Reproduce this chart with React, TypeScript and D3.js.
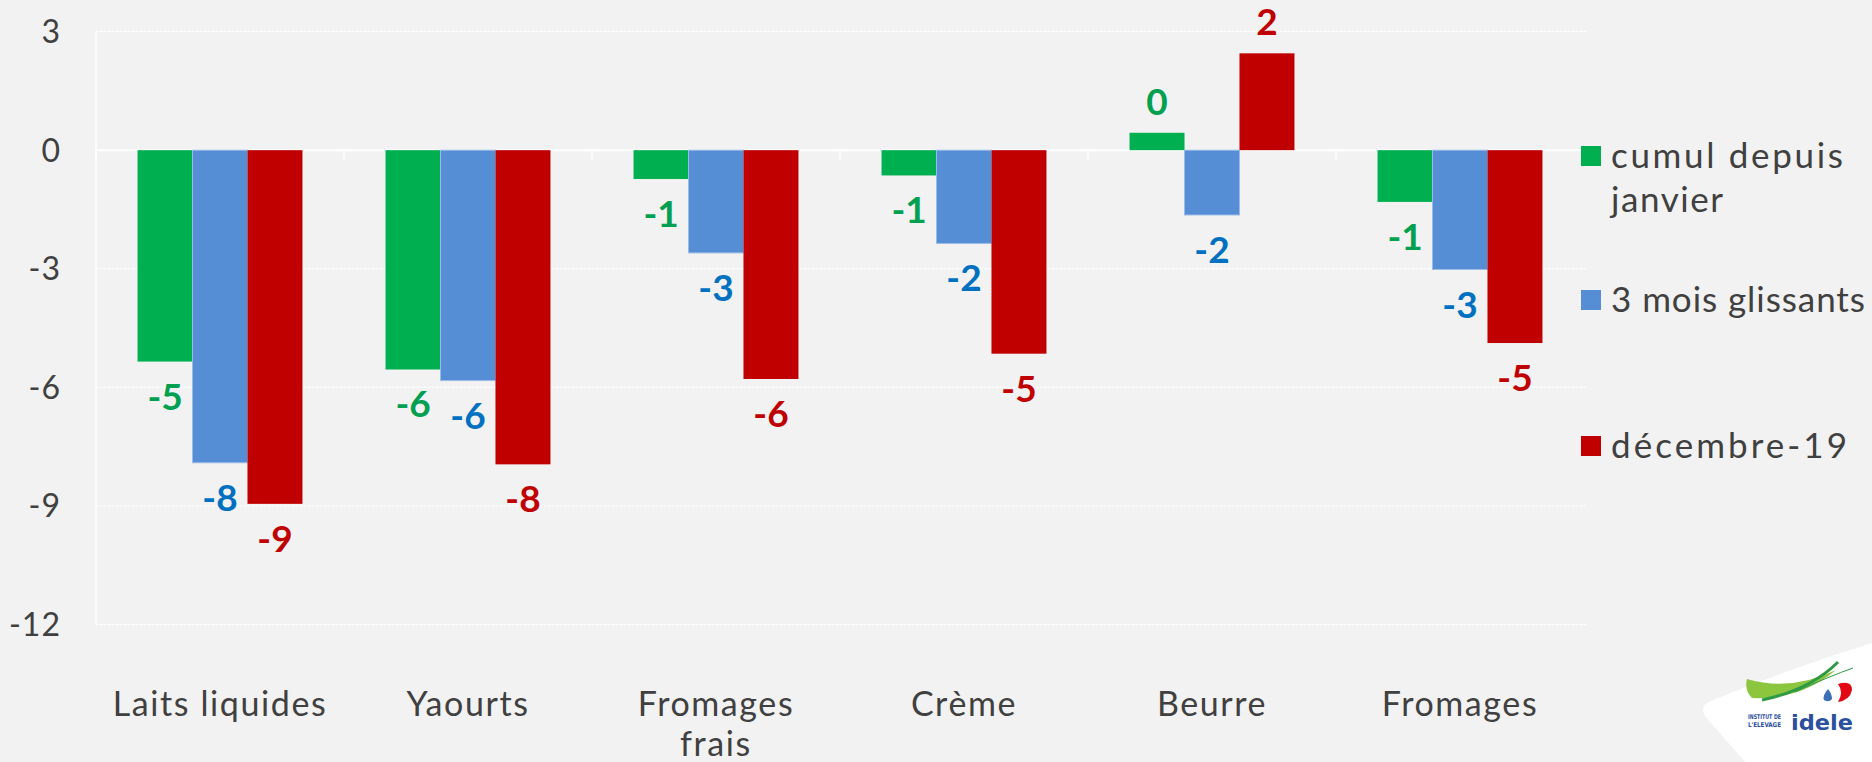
import React from "react";
import * as d3 from "d3";

const categories = ["Laits liquides", "Yaourts", "Fromages frais", "Crème", "Beurre", "Fromages"];
const categoryLines = [["Laits liquides"], ["Yaourts"], ["Fromages", "frais"], ["Crème"], ["Beurre"], ["Fromages"]];
const seriesNames = ["cumul depuis janvier", "3 mois glissants", "décembre-19"];
const legendLines = [["cumul depuis", "janvier"], ["3 mois glissants"], ["décembre-19"]];
const cumulDepuisJanvier = [-5.35, -5.55, -0.73, -0.64, 0.44, -1.31];
const troisMoisGlissants = [-7.91, -5.83, -2.6, -2.36, -1.64, -3.02];
const decembre19 = [-8.95, -7.95, -5.79, -5.15, 2.45, -4.88];
const yTicks = [3, 0, -3, -6, -9, -12];

const seriesValues = [cumulDepuisJanvier, troisMoisGlissants, decembre19];
const barColors = ["#00B050", "#558ED5", "#C00000"];
const labelColors = ["#00A050", "#0070C0", "#C00000"];
const legendLineWidths = [[232, 112], [254], [236]];

const W = 1872;
const H = 762;
const FONT = "Lato, 'Open Sans', sans-serif";
const TEXT = "#404040";

export default function App() {
  const x = d3.scaleBand<string>().domain(categories).range([96, 1584]).padding(0);
  const y = d3.scaleLinear().domain([-12, 3]).range([624.4, 31.6]);
  const groupW = x.bandwidth() * 0.665;
  const inner = d3.scaleBand<string>().domain(seriesNames).range([0, groupW]).padding(0);
  const y0 = y(0);

  return (
    <svg width={W} height={H} style={{ position: "absolute", left: 0, top: 0, display: "block" }}>
      <rect x={0} y={0} width={W} height={H} fill="#F2F2F2" />
      {/* gridlines */}
      {yTicks.map((t) => (
        <line key={"g" + t} x1={96} x2={1586} y1={y(t)} y2={y(t)} stroke="#FFFFFF" strokeWidth={t === 0 ? 2 : 1} strokeDasharray={t === 0 ? undefined : "3 1"} />
      ))}
      <line x1={96} x2={96} y1={y(3)} y2={y(-12)} stroke="#FFFFFF" strokeWidth={1.5} />
      {d3.range(categories.length + 1).map((i) => (
        <line key={"t" + i} x1={96 + i * x.bandwidth()} x2={96 + i * x.bandwidth()} y1={y0} y2={y0 + 10} stroke="#FFFFFF" strokeWidth={1.5} />
      ))}
      {/* tick labels */}
      {yTicks.map((t) => (
        <text key={"l" + t} x={61} y={y(t)} dy="0.36em" textAnchor="end" fontFamily={FONT} fontSize={32} fill={TEXT} letterSpacing={1}>
          {String(t)}
        </text>
      ))}
      {/* bars */}
      {seriesValues.map((vals, s) =>
        vals.map((v, i) => {
          const bx = (x(categories[i]) as number) + (x.bandwidth() - groupW) / 2 + (inner(seriesNames[s]) as number);
          const bw = inner.bandwidth();
          const top = Math.min(y(v), y0);
          const h = Math.abs(y(v) - y0);
          return (
            <rect key={`b${s}-${i}`} x={bx} y={top} width={bw} height={h} fill={barColors[s]}
              stroke={s === 1 ? "#9DBBE8" : "none"} strokeWidth={s === 1 ? 1 : 0} />
          );
        })
      )}
      {/* data labels */}
      {seriesValues.map((vals, s) =>
        vals.map((v, i) => {
          const bx = (x(categories[i]) as number) + (x.bandwidth() - groupW) / 2 + (inner(seriesNames[s]) as number) + inner.bandwidth() / 2;
          const r = Math.round(v);
          const ly = v >= 0 ? y(v) - 18 : y(v) + 48;
          return (
            <text key={`d${s}-${i}`} x={bx} y={ly} textAnchor="middle" fontFamily={FONT} fontWeight={700} fontSize={37} fill={labelColors[s]}>
              {r === 0 ? "0" : String(r)}
            </text>
          );
        })
      )}
      {/* category labels */}
      {categoryLines.map((lines, i) => (
        <text key={"c" + i} x={(x(categories[i]) as number) + x.bandwidth() / 2} y={716} textAnchor="middle" fontFamily={FONT} fontSize={34} fill={TEXT} letterSpacing={1.6}>
          {lines.map((ln, k) => (
            <tspan key={k} x={(x(categories[i]) as number) + x.bandwidth() / 2} dy={k === 0 ? 0 : 40}>{ln}</tspan>
          ))}
        </text>
      ))}
      {/* legend */}
      {legendLines.map((lines, s) => {
        const baseY = [168, 312, 458][s];
        return (
          <g key={"lg" + s}>
            <rect x={1581} y={baseY - 22} width={20} height={20} fill={barColors[s]} />
            {lines.map((ln, k) => (
              <text key={k} x={1611} y={baseY + k * 44} fontFamily={FONT} fontSize={35} fill={TEXT}
                textLength={legendLineWidths[s][k]} lengthAdjust="spacing">{ln}</text>
            ))}
          </g>
        );
      })}
      {/* logo */}
      <g>
        <path d="M1745,762 L1705,716 Q1699,706 1711,701 Q1790,668 1872,643 L1872,762 Z" fill="#FFFFFF" />
        <path d="M1747,679 Q1790,692 1836,670 Q1800,700 1752,698 Q1744,690 1747,679 Z" fill="#8CC63F" />
        <path d="M1762,700 Q1810,690 1838,662" stroke="#2E9A46" strokeWidth={3} fill="none" />
        <path d="M1795,692 Q1830,676 1853,668" stroke="#2E9A46" strokeWidth={1} fill="none" />
        <path d="M1838,684 Q1852,680 1852,690 Q1850,700 1838,702 Q1844,692 1838,684 Z" fill="#E30613" />
        <path d="M1828,689 Q1822,696 1824,700 Q1829,703 1832,699 Q1832,694 1828,689 Z" fill="#3C6FB6" />
        <text x={1748} y={719} fontFamily="'DejaVu Sans', sans-serif" fontWeight={700} fontSize={6.5} fill="#2C4F9E" textLength={33} lengthAdjust="spacingAndGlyphs">INSTITUT DE</text>
        <text x={1748} y={727} fontFamily="'DejaVu Sans', sans-serif" fontWeight={700} fontSize={6.5} fill="#2C4F9E" textLength={33} lengthAdjust="spacingAndGlyphs">L'ELEVAGE</text>
        <text x={1791} y={730} fontFamily="'DejaVu Sans', sans-serif" fontWeight={700} fontSize={21} fill="#2C4F9E" textLength={62} lengthAdjust="spacingAndGlyphs">idele</text>
      </g>
    </svg>
  );
}
